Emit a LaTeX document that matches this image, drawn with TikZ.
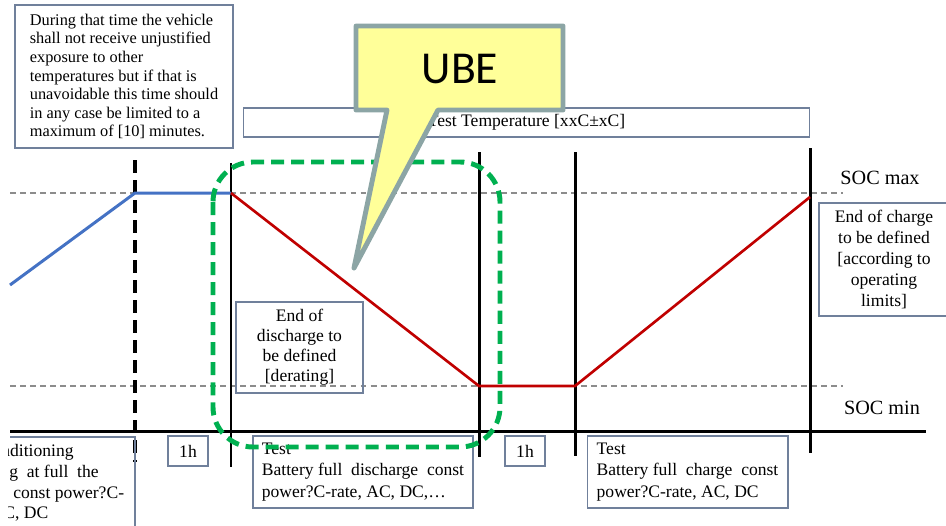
\documentclass[tikz,border=0pt]{standalone}
\usepackage{fontspec}
\setmainfont{Liberation Serif}
\newfontfamily\calloutfont{Carlito}
\usepackage{tikz}
\definecolor{boxgray}{RGB}{112,128,155}
\definecolor{socgray}{RGB}{140,140,140}
\definecolor{soclow}{RGB}{68,114,196}
\definecolor{socdrop}{RGB}{192,0,0}
\definecolor{ubegreen}{RGB}{0,176,80}
\definecolor{calloutfill}{RGB}{255,255,153}
\definecolor{calloutrim}{RGB}{140,165,165}

\begin{document}
\begin{tikzpicture}[x=0.02cm, y=-0.02cm,
   infobox/.style={draw=boxgray, line width=0.6pt, inner sep=0pt, font=\fontsize{10}{12}\selectfont},
   phase/.style={line width=1.7pt},
   soc/.style={draw=socgray, line width=0.6pt, dash pattern=on 3.4pt off 2.3pt}]
   \useasboundingbox (0,0) rectangle (946,525);
   \clip (0,0) rectangle (946,525);

   \node [infobox, minimum width=4.36cm, minimum height=2.86cm, align=left, font=\fontsize{9.3}{10.6}\selectfont] (note) at (124,76.5)
      {During that time the vehicle\\ shall not receive unjustified\\ exposure to other\\ temperatures but if that is\\ unavoidable this time should\\ in any case be limited to a\\ maximum of [10] minutes.};
   \node [infobox, minimum width=11.34cm, minimum height=0.58cm] (temp) at (526.5,122.5) {Test Temperature [xxC±xC]};

   \coordinate (maxL) at (10,193);
   \coordinate (maxR) at (843,193);
   \coordinate (minL) at (10,386);
   \coordinate (minR) at (843,386);
   \draw [soc] (maxL) -- (maxR);
   \draw [soc] (minL) -- (minR);
   \node [draw=none, font=\fontsize{11.5}{13}\selectfont] (socmax) at (880,178) {SOC max};
   \node [draw=none, font=\fontsize{11.5}{13}\selectfont] (socmin) at (882,408) {SOC min};

   \draw [phase] (10,431) -- (926,431);
   \draw [phase, line width=2pt, dash pattern=on 7.4pt off 4pt] (135,160) -- (135,462);
   \draw [phase] (231,163) -- (231,467);
   \draw [phase] (479,152) -- (479,457);
   \draw [phase] (575,152) -- (575,456);
   \draw [phase] (810,148) -- (810,453);

   \coordinate (b0) at (10,285);
   \coordinate (b1) at (135,193);
   \coordinate (b2) at (231,193);
   \coordinate (r1) at (479,386);
   \coordinate (r2) at (575,386);
   \coordinate (r3) at (810,197);
   \draw [soclow, line width=1.7pt] (b0) -- (b1) -- (b2);
   \draw [socdrop, line width=1.5pt] (b2) -- (r1) -- (r2) -- (r3);

   \node [infobox, minimum width=2.54cm, minimum height=1.82cm, align=center, font=\fontsize{10}{11.4}\selectfont] (eod) at (299.5,347.5)
      {End of\\ discharge to\\ be defined\\ {[derating]}};
   \node [infobox, minimum width=2.6cm, minimum height=2.26cm, align=center, font=\fontsize{10}{12}\selectfont] (eoc) at (884,259.5)
      {End of charge\\ to be defined\\ {[according to}\\ operating\\ limits]};

   \draw [boxgray, line width=0.6pt] (10,437) -- (135,437) -- (135,530);
   \begin{scope}
      \clip (8,437) rectangle (135,525);
      \node [draw=none, anchor=base west, inner sep=0pt, font=\fontsize{10}{12}\selectfont] (pre1) at (1,456) {nditioning};
      \node [draw=none, anchor=base west, inner sep=0pt, font=\fontsize{10}{12}\selectfont] (pre2) at (9,477) {g\ \ at full\ \ the};
      \node [draw=none, anchor=base west, inner sep=0pt, font=\fontsize{10}{12}\selectfont] (pre3) at (13,498) {const power?C-};
      \node [draw=none, anchor=base west, inner sep=0pt, font=\fontsize{10}{12}\selectfont] (pre4) at (3,518) {C, DC};
   \end{scope}

   \node [infobox, minimum width=0.8cm, minimum height=0.6cm] (rest1) at (188,451) {1h};
   \node [infobox, minimum width=0.8cm, minimum height=0.6cm] (rest2) at (525,451) {1h};
   \node [infobox, minimum width=4.4cm, minimum height=1.44cm, align=left, font=\fontsize{10}{12.2}\selectfont] (discharge) at (363,472)
      {Test\\ Battery full\ \ discharge\ \ const\\ power?C-rate, AC, DC,…};
   \node [infobox, minimum width=4.02cm, minimum height=1.44cm, align=left, font=\fontsize{10}{12.2}\selectfont] (charge) at (687.5,472)
      {Test\\ Battery full\ \ charge\ \ const\\ power?C-rate, AC, DC};

   \draw [ubegreen, line width=2.8pt, dash pattern=on 7.4pt off 4pt, rounded corners=0.8cm] (213,162) rectangle (500,447);

   \draw [draw=calloutrim, fill=calloutfill, line width=2.8pt, line join=round]
      (356,26) -- (563,26) -- (563,110) -- (438,110) -- (354,268) -- (387,110) -- (356,110) -- cycle;
   \node [draw=none, font=\calloutfont\fontsize{26}{30}\selectfont] (ube) at (460,69) {UBE};
\end{tikzpicture}
\end{document}
